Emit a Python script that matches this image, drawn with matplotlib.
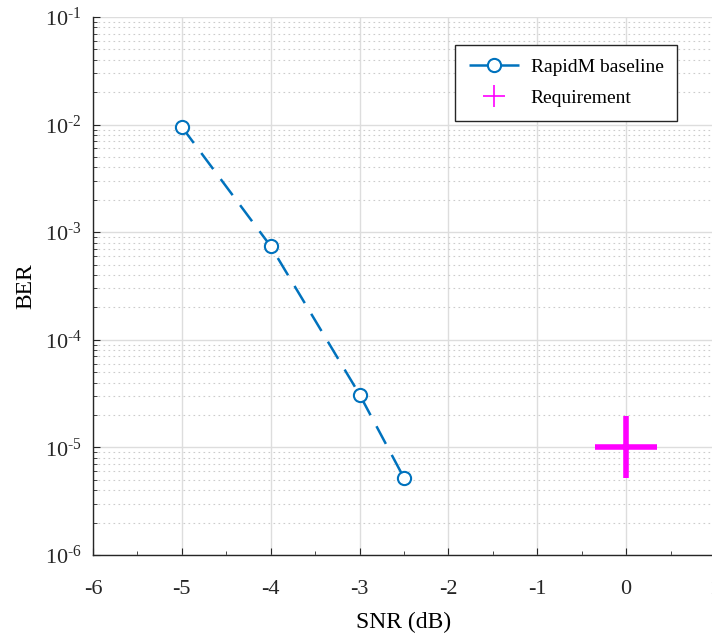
import numpy as np
import matplotlib
matplotlib.use("Agg")
import matplotlib.pyplot as plt
from matplotlib.lines import Line2D
from matplotlib.ticker import LogLocator, FixedLocator, FuncFormatter

# donnees
snr = [-5, -4, -3, -2.5]
ber = [9.5e-3, 7.4e-4, 3.1e-5, 5.2e-6]
req_snr = [0]
req_ber = [1e-5]

plt.rcParams['font.family'] = ['Liberation Serif', 'DejaVu Serif']
plt.rcParams['mathtext.fontset'] = 'custom'
plt.rcParams['mathtext.rm'] = 'Liberation Serif'
plt.rcParams['mathtext.it'] = 'Liberation Serif:italic'
plt.rcParams['axes.unicode_minus'] = False

bleu = '#0072BD'
magenta = '#FF00FF'

fig = plt.figure(figsize=(7.12, 6.35), dpi=100)
ax = fig.add_axes([93/712, 1 - 555/635, (715 - 93)/712, (555 - 17)/635])

ax.plot(snr, ber, ls=(0, (8, 5)), lw=1.8, color=bleu, marker='o', ms=9.5,
        mfc='white', mec=bleu, mew=1.5, zorder=3)
ax.plot(req_snr, req_ber, ls='none', marker='+', ms=44, mew=4,
        color=magenta, zorder=3)

ax.set_yscale('log')
ax.set_xlim(-6, 1)
ax.set_ylim(1e-6, 1e-1)
ax.set_xticks(np.arange(-6, 2, 1))
ax.xaxis.set_minor_locator(FixedLocator(np.arange(-6, 1.5, 0.5)))
ax.yaxis.set_major_locator(LogLocator(base=10, numticks=10))
ax.yaxis.set_minor_locator(LogLocator(base=10, subs=np.arange(2, 10), numticks=20))


def fmt_puissance(v, pos):
    n = int(round(np.log10(v)))
    return r'10$^{\text{%d}}$' % n


ax.yaxis.set_major_formatter(FuncFormatter(fmt_puissance))

ax.tick_params(which='both', direction='in', labelsize=16, colors='#262626')
ax.tick_params(which='major', length=5)
ax.tick_params(which='minor', length=3)
ax.tick_params(axis='x', pad=18)
ax.tick_params(axis='y', pad=8)

ax.grid(True, which='major', color='#dddddd', lw=1.0, ls='-')
ax.grid(True, which='minor', axis='y', color='#cccccc', lw=0.8, ls=(0, (1.5, 3)))
ax.set_axisbelow(True)

ax.spines['top'].set_visible(False)
ax.spines['right'].set_visible(False)
for s in ['left', 'bottom']:
    ax.spines[s].set_color('#262626')
    ax.spines[s].set_linewidth(1.0)

ax.set_xlabel('SNR (dB)', fontsize=17, labelpad=9)
ax.set_ylabel('BER', fontsize=17, labelpad=6)

# legende avec des marqueurs plus petits
h1 = Line2D([], [], ls=(0, (8, 5)), lw=1.8, color=bleu, marker='o', ms=9.5,
            mfc='white', mec=bleu, mew=1.5)
h2 = Line2D([], [], ls='none', marker='+', ms=16, mew=1.2, color=magenta)
leg = ax.legend([h1, h2], ['RapidM baseline', 'Requirement'],
                loc='upper right', bbox_to_anchor=(687/712, 1 - 35/635),
                bbox_transform=fig.transFigure, fontsize=14, fancybox=False,
                framealpha=1, edgecolor='#262626', borderpad=0.7,
                labelspacing=0.7, handlelength=2.6, handletextpad=0.6)
leg.get_frame().set_linewidth(1.0)

plt.savefig('out.png', dpi=100)
